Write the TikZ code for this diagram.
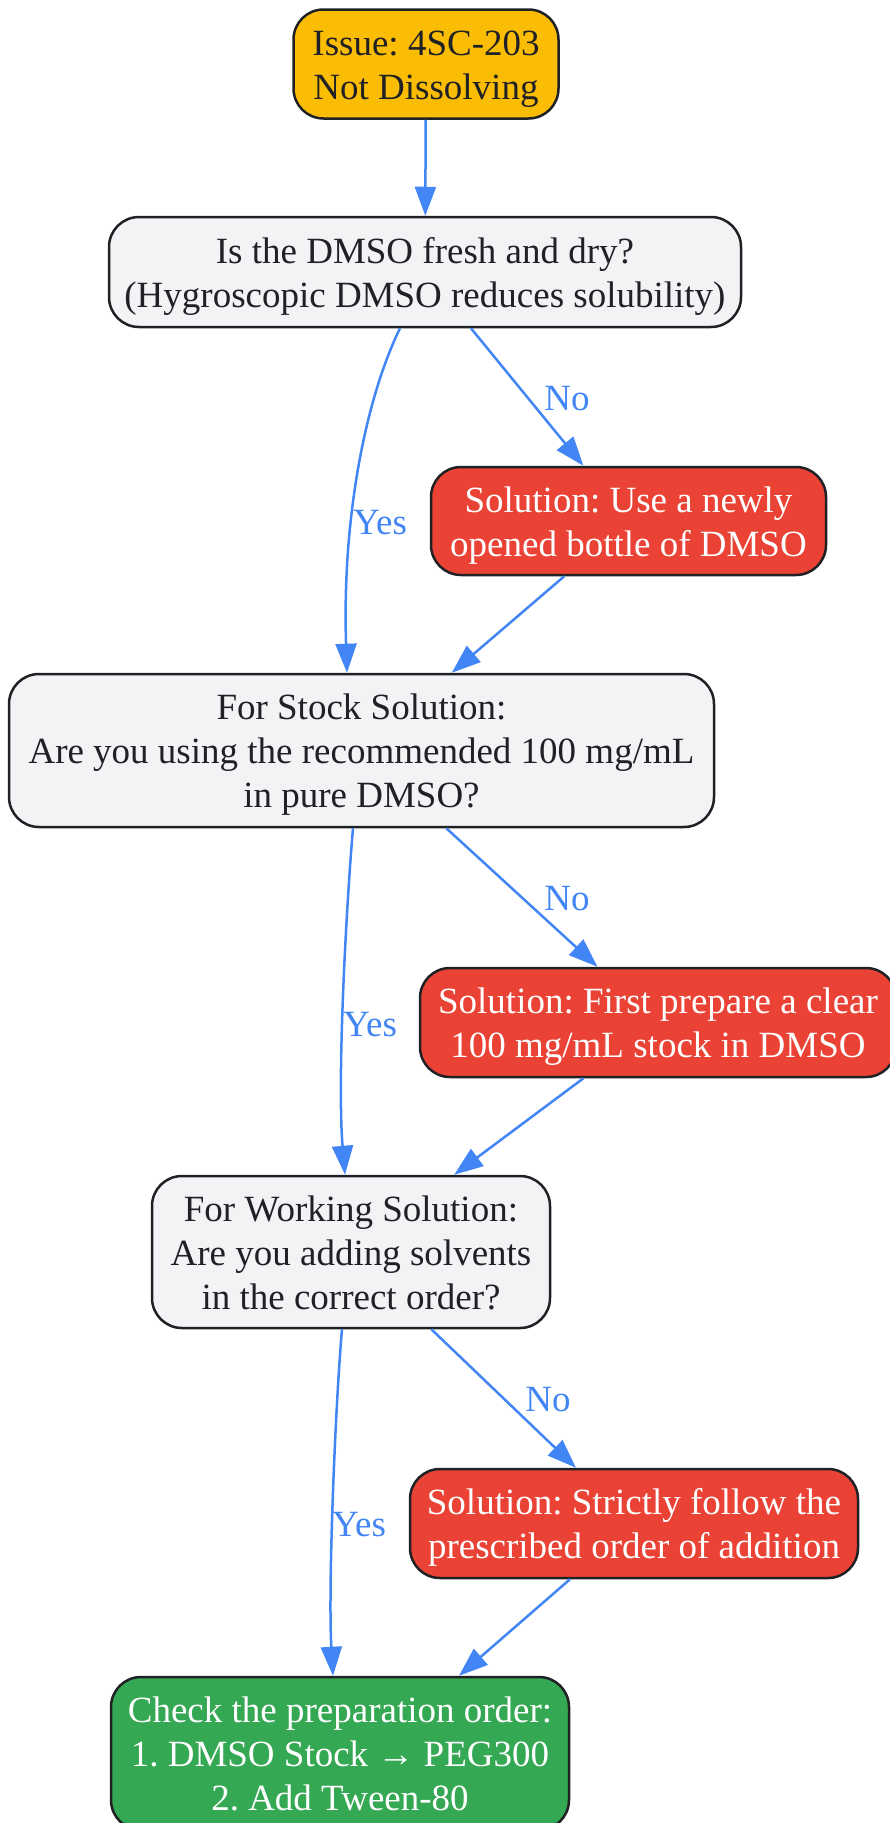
\documentclass[tikz,border=0pt]{standalone}
\usepackage{fontspec}
\setmainfont{Liberation Serif}
\usetikzlibrary{arrows.meta}
\definecolor{ink}{HTML}{202124}
\definecolor{qgray}{HTML}{F1F3F4}
\definecolor{iyellow}{HTML}{FBBC04}
\definecolor{sred}{HTML}{EA4335}
\definecolor{fgreen}{HTML}{34A853}
\definecolor{eblue}{HTML}{4285F4}
\newcommand\lnst{\rule[-9pt]{0pt}{44pt}}
\frenchspacing
\begin{document}
\begin{tikzpicture}[x=1pt,y=-1pt,
  box/.style={draw=ink, line width=2.5pt, rounded corners=30pt, align=center, inner sep=0pt,
    font=\fontsize{37}{44}\selectfont, text=ink},
  issuebox/.style={box, fill=iyellow},
  qbox/.style={box, fill=qgray},
  solbox/.style={box, fill=sred, text=white},
  finbox/.style={box, fill=fgreen, text=white},
  edge/.style={draw=eblue, line width=2.5pt, -{Triangle[length=29pt,width=21pt]}},
  lbl/.style={text=eblue, font=\fontsize{37}{44}\selectfont, inner sep=0pt}]
\useasboundingbox (0,0) rectangle (889,1823);

\node[issuebox, minimum width=265pt, minimum height=109pt] (issue) at (426,64) {\lnst Issue: 4SC-203\\\lnst Not Dissolving};
\node[qbox, minimum width=632pt, minimum height=110pt] (q1) at (425,272) {\lnst Is the DMSO fresh and dry?\\\lnst (Hygroscopic DMSO reduces solubility)};
\node[solbox, minimum width=395pt, minimum height=108pt] (sol1) at (628.5,521) {\lnst Solution: Use a newly\\\lnst opened bottle of DMSO};
\node[qbox, minimum width=705pt, minimum height=153pt] (q2) at (361.5,750.5) {\lnst For Stock Solution:\\\lnst Are you using the recommended 100 mg/mL\\\lnst in pure DMSO?};
\node[solbox, minimum width=476pt, minimum height=109pt] (sol2) at (658,1022.5) {\lnst Solution: First prepare a clear\\\lnst 100 mg/mL stock in DMSO};
\node[qbox, minimum width=398pt, minimum height=152pt] (q3) at (351,1252) {\lnst For Working Solution:\\\lnst Are you adding solvents\\\lnst in the correct order?};
\node[solbox, minimum width=448pt, minimum height=109pt] (sol3) at (634,1523.5) {\lnst Solution: Strictly follow the\\\lnst prescribed order of addition};
\node[finbox, minimum width=458pt, minimum height=153pt] (final) at (340,1753.5) {\lnst Check the preparation order:\\\lnst 1. DMSO Stock → PEG300\\\lnst 2. Add Tween-80};

\draw[edge] (issue) -- (q1);
\draw[edge] (q1) -- (sol1);
\draw[edge] ([xshift=-25pt]q1.south) .. controls (365,400) and (342,520) .. ([xshift=-14.5pt]q2.north);
\draw[edge] (sol1) -- (q2);
\draw[edge] (q2) -- (sol2);
\draw[edge] ([xshift=-8.5pt]q2.south) .. controls (346,910) and (337,1080) .. ([xshift=-6pt]q3.north);
\draw[edge] (sol2) -- (q3);
\draw[edge] (q3) -- (sol3);
\draw[edge] ([xshift=-9pt]q3.south) .. controls (335,1410) and (328,1590) .. ([xshift=-7pt]final.north);
\draw[edge] (sol3) -- ([xshift=119pt]final.north);

\node[lbl] (l1) at (567,399) {No};
\node[lbl] (l2) at (380,523) {Yes};
\node[lbl] (l3) at (567,899) {No};
\node[lbl] (l4) at (370,1025) {Yes};
\node[lbl] (l5) at (548,1400) {No};
\node[lbl] (l6) at (359,1525) {Yes};
\end{tikzpicture}
\end{document}
